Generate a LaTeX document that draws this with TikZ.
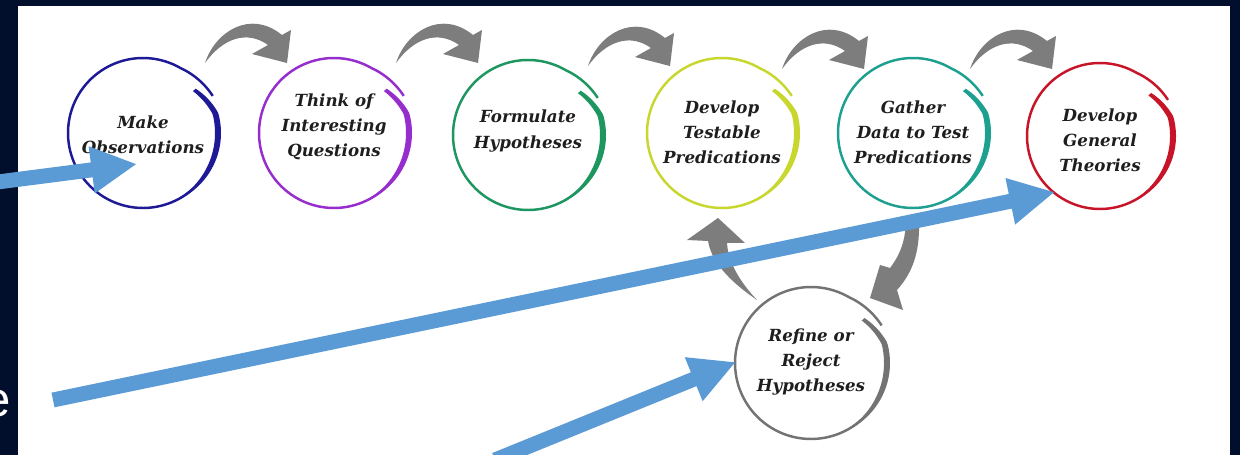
\documentclass[tikz,border=0pt]{standalone}
\usepackage{fontspec}
\newfontfamily\lblfont{DejaVu Serif}
\newfontfamily\efont{Liberation Sans}
\usetikzlibrary{arrows.meta}
\definecolor{navybg}{RGB}{1,15,45}
\definecolor{obsblue}{RGB}{30,25,150}
\definecolor{qpurple}{RGB}{150,45,205}
\definecolor{hgreen}{RGB}{30,150,95}
\definecolor{tlime}{RGB}{200,215,45}
\definecolor{dteal}{RGB}{30,160,145}
\definecolor{gred}{RGB}{200,20,40}
\definecolor{rgray}{RGB}{115,115,115}
\definecolor{flowgray}{RGB}{125,125,125}
\definecolor{arrowblue}{RGB}{91,155,213}
\definecolor{txtdark}{RGB}{30,30,30}
\tikzset{
  declare function={
    ringr(\a)=\R+max(0,60-\a)/8;
    rcen(\a)=\R-max(0,\a-15)*0.32;
    rthk(\a)=1.5+4.5*sin((\a+60)*1.5);
  },
  stage/.style={circle, minimum size=85pt, inner sep=0pt, align=center, text=txtdark,
    font=\lblfont\bfseries\itshape\fontsize{9.5}{14.3}\selectfont},
  bluearrow/.style={arrowblue, line width=8.5pt, -{Triangle[length=26pt,width=25pt]}},
  flow/.style={fill=flowgray},
}
\newcommand\drawring[3]{%
  \begin{scope}[shift={(#1.center)}]
    \def\R{#3}
    \draw[#2, line width=1.4pt] plot[smooth, domain=28:312, samples=90]
      ({ringr(\x)*cos(\x)},{-ringr(\x)*sin(\x)});
    \fill[#2] plot[smooth, domain=0:100, samples=50]
      ({(rcen(40-\x)+rthk(40-\x)/2)*cos(40-\x)},{-(rcen(40-\x)+rthk(40-\x)/2)*sin(40-\x)})
      -- plot[smooth, domain=0:100, samples=50]
      ({(rcen(\x-60)-rthk(\x-60)/2)*cos(\x-60)},{-(rcen(\x-60)-rthk(\x-60)/2)*sin(\x-60)})
      -- cycle;
  \end{scope}}
\newcommand\toparrow[1]{%
  \fill[flow, shift={(#1)}] (0,0) .. controls (10,-31) and (45,-54) .. (77,-28)
    -- (86,-33) -- (82,0) -- (47,-9) -- (63,-18)
    .. controls (42,-33) and (18,-25) .. (0,0) -- cycle;}
\begin{document}
\begin{tikzpicture}[x=0.02cm, y=-0.02cm]
\useasboundingbox (0,0) rectangle (1240,455);
\fill[navybg] (0,0) rectangle (1240,455);
\fill[white] (18,6) rectangle (1230,455);

% stages
\node[stage] (obs)  at (143,135) {Make\\Observations};
\node[stage] (ques) at (334,127) {Think of\\Interesting\\Questions};
\node[stage] (hyp)  at (528,131) {Formulate\\Hypotheses};
\node[stage] (pred) at (722,132) {Develop\\Testable\\Predications};
\node[stage] (data) at (913,132) {Gather\\Data to Test\\Predications};
\node[stage] (theo) at (1100,140) {Develop\\General\\Theories};
\node[stage] (ref)  at (811,362) {Refine or\\Reject\\Hypotheses};

\coordinate (c1) at (143,133);
\coordinate (c2) at (334,133);
\coordinate (c3) at (528,135);
\coordinate (c4) at (722,133);
\coordinate (c5) at (913,133);
\coordinate (c6) at (1100,136);
\coordinate (c7) at (811,363);
\drawring{c1}{obsblue}{75}
\drawring{c2}{qpurple}{75}
\drawring{c3}{hgreen}{75}
\drawring{c4}{tlime}{75}
\drawring{c5}{dteal}{75}
\drawring{c6}{gred}{73}
\drawring{c7}{rgray}{76}

% gray flow arrows
\coordinate (t1) at (205,63);
\coordinate (t2) at (396,63);
\coordinate (t3) at (588,66);
\coordinate (t4) at (782,69);
\coordinate (t5) at (970,69);
\toparrow{t1}
\toparrow{t2}
\toparrow{t3}
\toparrow{t4}
\toparrow{t5}

\coordinate (up) at (757,300);
\fill[flow, shift={(up)}] (0,0) .. controls (-22,-15) and (-45,-35) .. (-49,-59)
  -- (-70,-60) -- (-39,-82) -- (-12,-57) -- (-30,-57)
  .. controls (-29,-38) and (-17,-18) .. (0,0) -- cycle;
\coordinate (down) at (906,218);
\fill[flow, shift={(down)}] (0,0) .. controls (0,22) and (-6,37) .. (-16,50)
  -- (-26,47) -- (-36,80) -- (-3,92) -- (-9,72)
  .. controls (9,52) and (14,30) .. (13,0) -- cycle;

% blue arrows
\coordinate (b1s) at (-10,183);
\coordinate (b1e) at (137,164);
\coordinate (b2s) at (53,400);
\coordinate (b2e) at (1055,192);
\coordinate (b3s) at (495,460);
\coordinate (b3e) at (736,362);
\draw[bluearrow] (b1s) -- (b1e);
\draw[bluearrow] (b2s) -- (b2e);
\draw[bluearrow] (b3s) -- (b3e);

\node[anchor=base east, inner sep=0pt, text=white, font=\efont\fontsize{28}{30}\selectfont] (frag) at (11,417) {e};
\end{tikzpicture}
\end{document}
